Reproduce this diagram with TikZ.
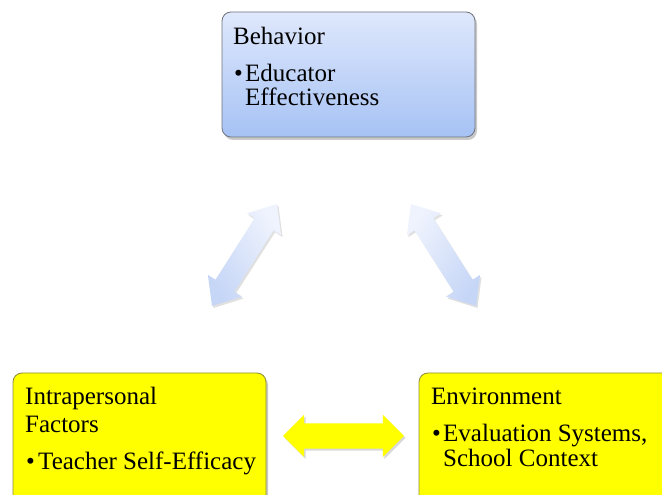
\documentclass[tikz,border=0pt]{standalone}
\usepackage{fontspec}
\setmainfont{Liberation Serif}
\usetikzlibrary{shapes.arrows,shadows}
\definecolor{btop}{HTML}{DFE8FC}
\definecolor{bbot}{HTML}{A6C2F4}
\definecolor{bbord}{HTML}{6F747C}
\definecolor{atop}{HTML}{EFF3FD}
\definecolor{abot}{HTML}{C6D6F7}
\definecolor{yfill}{HTML}{FFFF00}
\definecolor{ybord}{HTML}{8C8C3C}
\tikzset{
  boxshadow/.style={drop shadow={shadow xshift=2pt,shadow yshift=-3pt,opacity=0.35,fill=black!60}},
  topbox/.style={rectangle,rounded corners=9pt,draw=bbord,line width=0.8pt,
    top color=btop,bottom color=bbot,minimum width=253pt,minimum height=125pt,inner sep=0pt,boxshadow},
  ybox/.style={rectangle,rounded corners=9pt,draw=ybord,line width=0.8pt,
    fill=yfill,minimum width=253pt,minimum height=137pt,inner sep=0pt,boxshadow},
  barrow/.style={double arrow,double arrow head extend=9pt,double arrow tip angle=80,
    minimum height=121pt,inner xsep=0pt,inner ysep=11pt,top color=atop,bottom color=abot,
    drop shadow={shadow xshift=1.5pt,shadow yshift=-2pt,opacity=0.2,fill=black!60}},
  yarrow/.style={double arrow,double arrow head extend=8.5pt,double arrow tip angle=90,
    minimum height=121pt,inner xsep=0pt,inner ysep=12.5pt,fill=yfill,
    drop shadow={shadow xshift=1.5pt,shadow yshift=-2pt,opacity=0.25,fill=black!60}},
  txt/.style={anchor=base west,inner sep=0pt,font=\fontsize{25}{29}\selectfont},
}
\begin{document}
\begin{tikzpicture}[x=1pt,y=1pt]
\useasboundingbox (0,0) rectangle (662,495);
\clip (0,0) rectangle (662,495);
\fill[white] (0,0) rectangle (662,495);
% boxes
\node[topbox] (beh) at (348.5,420.5) {};
\node[ybox] (intra) at (139.5,53.5) {};
\node[ybox] (env) at (545.5,53.5) {};
% arrows
\node[barrow,rotate=57.5,shading angle=-57.5] (a1) at (244.5,240) {};
\node[barrow,rotate=-57.5,shading angle=57.5] (a2) at (443.5,240) {};
\node[yarrow] (a3) at (343.5,59) {};
% texts
\node[txt] (t1) at (233,450) {Behavior};
\node[txt] (t2b) at (234,413) {\textbullet};
\node[txt] (t2) at (245,413) {Educator};
\node[txt] (t3) at (245,389) {Effectiveness};
\node[txt] (t4) at (25,90) {Intrapersonal};
\node[txt] (t5) at (25,62) {Factors};
\node[txt] (t6b) at (26,25) {\textbullet};
\node[txt] (t6) at (38,25) {Teacher Self-Efficacy};
\node[txt] (t7) at (431,90) {Environment};
\node[txt] (t8b) at (432,53) {\textbullet};
\node[txt] (t8) at (443,53) {Evaluation Systems,};
\node[txt] (t9) at (443,28) {School Context};
\end{tikzpicture}
\end{document}
